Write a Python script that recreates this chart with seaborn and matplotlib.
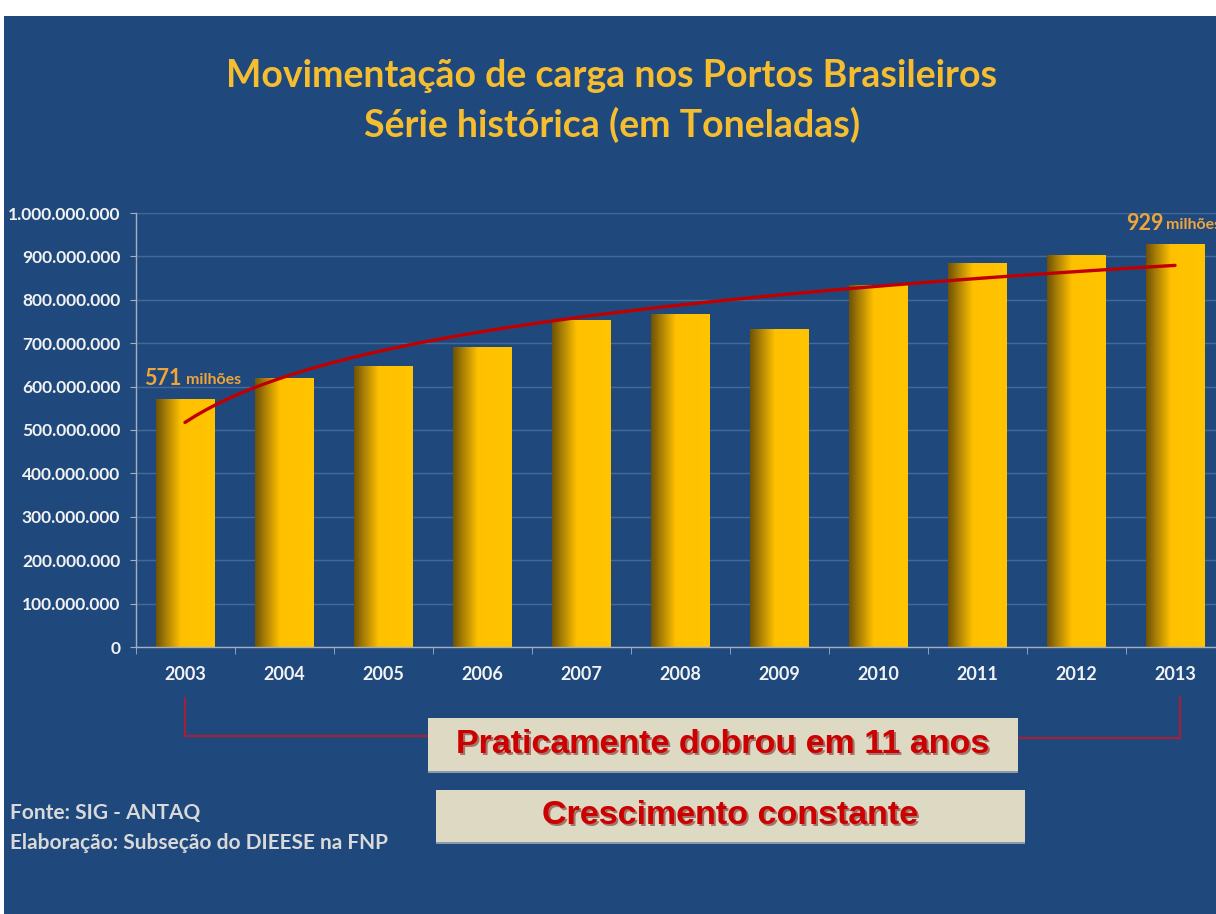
import numpy as np
import pandas as pd
import matplotlib
matplotlib.use("Agg")
import matplotlib.pyplot as plt
import matplotlib.transforms as mtransforms
from matplotlib.colors import LinearSegmentedColormap
from matplotlib.patches import Rectangle
from matplotlib.lines import Line2D
import seaborn as sns

# Data (toneladas) - SIG/ANTAQ
anos = [2003, 2004, 2005, 2006, 2007, 2008, 2009, 2010, 2011, 2012, 2013]
toneladas = [571e6, 620e6, 647e6, 691e6, 753e6, 767e6, 733e6, 834e6, 885e6, 903e6, 929e6]
y_ticks = [0, 100e6, 200e6, 300e6, 400e6, 500e6, 600e6, 700e6, 800e6, 900e6, 1000e6]

titulo = "Movimentação de carga nos Portos Brasileiros\nSérie histórica (em Toneladas)"
caixa1 = "Praticamente dobrou em 11 anos"
caixa2 = "Crescimento constante"
fonte = "Fonte: SIG - ANTAQ\nElaboração: Subseção do DIEESE na FNP"

BG = "#1F497D"
GOLD = "#F6BE2E"
ORANGE = "#F0A53A"
TREND = "#C00000"
W, H = 1216, 914

df = pd.DataFrame({"ano": anos, "ton": toneladas})
df["pos"] = df["ano"] - anos[0] + 1

sns.set_style("dark")
plt.rcParams["font.family"] = ["Lato", "DejaVu Sans"]


def fx(px):
    return px / W


def fy(py):
    return 1 - py / H


fig = plt.figure(figsize=(W / 100, H / 100), dpi=100)
fig.patch.set_facecolor("white")
fig.add_artist(Rectangle((fx(4), 0), 1 - fx(4), fy(16), transform=fig.transFigure,
                         facecolor=BG, edgecolor="none", zorder=0))

ax = fig.add_axes([fx(135.5), fy(647), (1224.5 - 135.5) / W, 434 / H])
ax.set_facecolor(BG)

sns.barplot(data=df, x="pos", y="ton", native_scale=True, width=0.59,
            color="#FFC000", linewidth=0, edgecolor="none", ax=ax, zorder=2)

# bar shading: dark left edge fading into gold
cmap = LinearSegmentedColormap.from_list(
    "barra", [(0, "#6E5205"), (0.15, "#A27A06"), (0.42, "#FFC000"), (1, "#FFC400")])
grad = np.linspace(0, 1, 256).reshape(1, -1)
for p in ax.patches:
    x0, w, h = p.get_x(), p.get_width(), p.get_height()
    im = ax.imshow(grad, extent=[x0, x0 + w, 0, h], aspect="auto", cmap=cmap,
                   origin="lower", zorder=2.5)
    im.set_clip_path(p)

# logarithmic trend line
sns.regplot(data=df, x="pos", y="ton", logx=True, ci=None, scatter=False, truncate=True,
            line_kws={"color": TREND, "lw": 2.4, "solid_capstyle": "round", "zorder": 4}, ax=ax)

ax.set_xlim(0.5, 11.5)
ax.set_ylim(0, 1e9)
ax.set_aspect("auto")
ax.set_xlabel("")
ax.set_ylabel("")
ax.set_xticks(df["pos"])
ax.set_xticklabels([str(a) for a in anos])
ax.set_xticks(np.arange(0.5, 11.5, 1), minor=True)
ax.set_yticks(y_ticks)
ax.set_yticklabels([f"{v:,.0f}".replace(",", ".") for v in y_ticks])
ax.tick_params(axis="x", which="major", length=0, pad=14, labelsize=13, labelcolor="#F2F2F2")
ax.tick_params(axis="x", which="minor", length=5, color="#A6AFC0", direction="out", bottom=True)
ax.tick_params(axis="y", length=4, color="#A6AFC0", pad=7, labelsize=12.5, labelcolor="#F2F2F2", left=True)
for lab in ax.get_xticklabels() + ax.get_yticklabels():
    lab.set_fontweight("bold")
ax.grid(axis="y", color="#45689A", lw=1, zorder=0)
ax.grid(axis="x", visible=False)
ax.set_axisbelow(True)
for s in ["top", "right"]:
    ax.spines[s].set_visible(False)
for s in ["left", "bottom"]:
    ax.spines[s].set_visible(True)
    ax.spines[s].set_color("#A6AFC0")
    ax.spines[s].set_linewidth(1)

# value labels on first and last bar (the last one runs off the slide, as in the original)
offsets = {0: (-41, 1), len(anos) - 1: (-49, -9)}
for i, (dx_num, dx_txt) in offsets.items():
    pos, val = df["pos"].iloc[i], df["ton"].iloc[i]
    num = f"{val / 1e6:.0f}"
    ax.annotate(num, (pos, val), xytext=(dx_num, 10), textcoords="offset pixels",
                color=ORANGE, fontsize=15.5, fontweight="bold", ha="left", va="bottom",
                annotation_clip=False, zorder=5)
    ax.annotate("milhões", (pos, val), xytext=(dx_txt, 12), textcoords="offset pixels",
                color=ORANGE, fontsize=11.5, fontweight="bold", ha="left", va="bottom",
                annotation_clip=False, zorder=5)

# title
fig.text(0.503, fy(101), titulo, ha="center", va="center", color=GOLD,
         fontsize=27, fontweight="bold", linespacing=1.45)

# bracket linking 2003 and 2013
tr = mtransforms.blended_transform_factory(ax.transData, fig.transFigure)
bracket_col = "#A3203A"
fig.add_artist(Line2D([1, 1, 3.45], [fy(698), fy(736), fy(736)], transform=tr,
                      color=bracket_col, lw=1.6))
fig.add_artist(Line2D([9.4, 11.05, 11.05], [fy(738), fy(738), fy(697)], transform=tr,
                      color=bracket_col, lw=1.6))

# boxes
for (x0, x1, y0, y1, txt) in [(428, 1018, 718, 771, caixa1), (436, 1025, 790, 842, caixa2)]:
    fig.add_artist(Rectangle((fx(x0), fy(y1 + 2)), (x1 - x0) / W, (y1 - y0) / H,
                             transform=fig.transFigure, facecolor="#8C99A8", edgecolor="none", zorder=2))
    fig.add_artist(Rectangle((fx(x0), fy(y1)), (x1 - x0) / W, (y1 - y0) / H,
                             transform=fig.transFigure, facecolor="#DDD9C3", edgecolor="none", zorder=3))
    cx, cy = fx((x0 + x1) / 2), fy((y0 + y1) / 2)
    fig.text(cx + 0.0015, cy - 0.002, txt, ha="center", va="center", color="#6B1010",
             family="Liberation Sans", fontsize=24.5, fontweight="bold", zorder=4, alpha=0.5)
    fig.text(cx, cy, txt, ha="center", va="center", color="#CC0000",
             family="Liberation Sans", fontsize=24.5, fontweight="bold", zorder=5)

# source
fig.text(fx(10), fy(828), fonte, ha="left", va="center", color="#D9D9D9",
         fontsize=15, fontweight="bold", linespacing=1.6)

fig.savefig("out.png", dpi=100, facecolor=fig.get_facecolor())
